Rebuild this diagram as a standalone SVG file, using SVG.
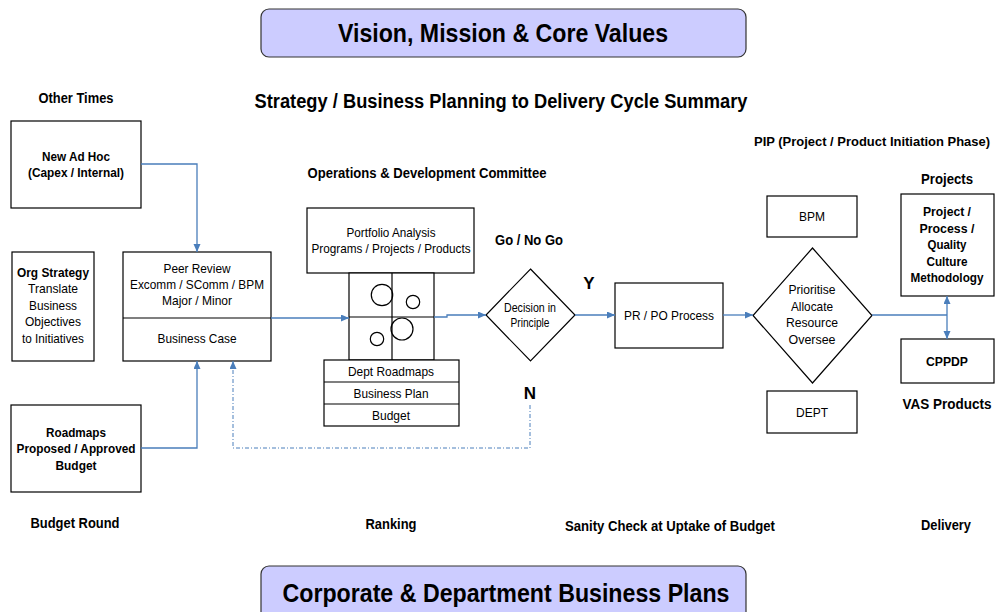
<svg xmlns="http://www.w3.org/2000/svg" width="997" height="612" viewBox="0 0 997 612">
<style>
text{font-family:"Liberation Sans",Arial,sans-serif;fill:#000;text-anchor:middle}
.r{font-size:13px}
.b{font-size:13px;font-weight:bold}
.l{font-size:14px;font-weight:bold}
.h{font-size:25px;font-weight:bold}
.box{fill:#fff;stroke:#000;stroke-width:1.2}
.hdr{fill:#ccccff;stroke:#333;stroke-width:1.2}
.c{fill:none;stroke:#4a7ebb;stroke-width:1.3}
.d{fill:none;stroke:#4a7ebb;stroke-width:1;stroke-dasharray:4 2 1 2}
.ci{fill:none;stroke:#000;stroke-width:1.2}
</style>
<defs>
<marker id="ah" markerUnits="userSpaceOnUse" markerWidth="9" markerHeight="8" refX="8" refY="3.5" orient="auto">
<path d="M0,0 L8,3.5 L0,7 z" fill="#4a7ebb"/>
</marker>
</defs>
<rect width="997" height="612" fill="#fff"/>

<g id="vision">
<rect class="hdr" x="261" y="9" width="485" height="48" rx="8"/>
<text class="h" x="503" y="42" textLength="330" lengthAdjust="spacingAndGlyphs">Vision, Mission &amp; Core Values</text>
</g>
<g id="corporate">
<rect class="hdr" x="261" y="566" width="485" height="60" rx="8"/>
<text class="h" x="506" y="602" textLength="447" lengthAdjust="spacingAndGlyphs">Corporate &amp; Department Business Plans</text>
</g>

<g id="labels">
<text x="501" y="108" style="font-size:19.5px;font-weight:bold" textLength="493" lengthAdjust="spacingAndGlyphs">Strategy / Business Planning to Delivery Cycle Summary</text>
<text class="l" x="76" y="103" textLength="75" lengthAdjust="spacingAndGlyphs">Other Times</text>
<text class="l" x="75" y="528" textLength="89" lengthAdjust="spacingAndGlyphs">Budget Round</text>
<text class="l" x="427" y="178" textLength="239" lengthAdjust="spacingAndGlyphs">Operations &amp; Development Committee</text>
<text class="l" x="391" y="529" textLength="51" lengthAdjust="spacingAndGlyphs">Ranking</text>
<text class="l" x="529" y="245" textLength="68" lengthAdjust="spacingAndGlyphs">Go / No Go</text>
<text x="589" y="289" style="font-size:17px;font-weight:bold">Y</text>
<text x="530" y="399" style="font-size:17px;font-weight:bold">N</text>
<text class="l" x="670" y="531" textLength="210" lengthAdjust="spacingAndGlyphs">Sanity Check at Uptake of Budget</text>
<text x="872" y="146" style="font-size:13px;font-weight:bold" textLength="236" lengthAdjust="spacingAndGlyphs">PIP (Project / Product Initiation Phase)</text>
<text class="l" x="947" y="184" textLength="52" lengthAdjust="spacingAndGlyphs">Projects</text>
<text class="l" x="947" y="409" textLength="89" lengthAdjust="spacingAndGlyphs">VAS Products</text>
<text class="l" x="946" y="530" textLength="50" lengthAdjust="spacingAndGlyphs">Delivery</text>
</g>

<g id="adhoc">
<rect class="box" x="11" y="121" width="130" height="87"/>
<text class="b" x="76" y="161" textLength="68" lengthAdjust="spacingAndGlyphs">New Ad Hoc</text>
<text class="b" x="76" y="177" textLength="96" lengthAdjust="spacingAndGlyphs">(Capex / Internal)</text>
</g>

<g id="orgstrategy">
<rect class="box" x="12" y="252" width="82" height="109"/>
<text class="b" x="53" y="277" textLength="72" lengthAdjust="spacingAndGlyphs">Org Strategy</text>
<text class="r" x="53" y="293" textLength="50" lengthAdjust="spacingAndGlyphs">Translate</text>
<text class="r" x="53" y="310" textLength="48" lengthAdjust="spacingAndGlyphs">Business</text>
<text class="r" x="53" y="326" textLength="56" lengthAdjust="spacingAndGlyphs">Objectives</text>
<text class="r" x="53" y="343" textLength="62" lengthAdjust="spacingAndGlyphs">to Initiatives</text>
</g>

<g id="peerreview">
<rect class="box" x="123" y="252" width="148" height="109"/>
<line x1="123" y1="318" x2="271" y2="318" stroke="#000" stroke-width="1.2"/>
<text class="r" x="197" y="273" textLength="67" lengthAdjust="spacingAndGlyphs">Peer Review</text>
<text class="r" x="197" y="289" textLength="134" lengthAdjust="spacingAndGlyphs">Excomm / SComm / BPM</text>
<text class="r" x="197" y="305" textLength="70" lengthAdjust="spacingAndGlyphs">Major / Minor</text>
<text class="r" x="197" y="343" textLength="79" lengthAdjust="spacingAndGlyphs">Business Case</text>
</g>

<g id="roadmaps">
<rect class="box" x="11" y="405" width="130" height="87"/>
<text class="b" x="76" y="437" textLength="60" lengthAdjust="spacingAndGlyphs">Roadmaps</text>
<text class="b" x="76" y="453" textLength="119" lengthAdjust="spacingAndGlyphs">Proposed / Approved</text>
<text class="b" x="76" y="470" textLength="41" lengthAdjust="spacingAndGlyphs">Budget</text>
</g>

<g id="portfolio">
<rect class="box" x="307" y="208" width="167" height="65"/>
<text class="r" x="391" y="237" textLength="89" lengthAdjust="spacingAndGlyphs">Portfolio Analysis</text>
<text class="r" x="391" y="253" textLength="159" lengthAdjust="spacingAndGlyphs">Programs / Projects / Products</text>
</g>

<g id="matrix">
<rect class="box" x="349" y="273" width="85" height="87"/>
<line x1="392" y1="273" x2="392" y2="360" stroke="#000" stroke-width="1.2"/>
<line x1="349" y1="317" x2="434" y2="317" stroke="#000" stroke-width="1.2"/>
<circle class="ci" cx="382" cy="295" r="10.7"/>
<circle class="ci" cx="413" cy="302" r="6.7"/>
<circle class="ci" cx="402" cy="329" r="11"/>
<circle class="ci" cx="377" cy="339" r="6.7"/>
</g>

<g id="deptstack">
<rect class="box" x="324" y="360" width="135" height="66"/>
<line x1="324" y1="382" x2="459" y2="382" stroke="#000" stroke-width="1.2"/>
<line x1="324" y1="404" x2="459" y2="404" stroke="#000" stroke-width="1.2"/>
<text class="r" x="391" y="376" textLength="86" lengthAdjust="spacingAndGlyphs">Dept Roadmaps</text>
<text class="r" x="391" y="398" textLength="75" lengthAdjust="spacingAndGlyphs">Business Plan</text>
<text class="r" x="391" y="420" textLength="38" lengthAdjust="spacingAndGlyphs">Budget</text>
</g>

<g id="decision">
<polygon class="box" points="530.5,269 575,315 530.5,361 486,315"/>
<text class="r" x="530" y="312" textLength="52" lengthAdjust="spacingAndGlyphs">Decision in</text>
<text class="r" x="530" y="327" textLength="39" lengthAdjust="spacingAndGlyphs">Principle</text>
</g>

<g id="prpo">
<rect class="box" x="615" y="283" width="108" height="65"/>
<text class="r" x="669" y="320" textLength="90" lengthAdjust="spacingAndGlyphs">PR / PO Process</text>
</g>

<g id="prioritise">
<polygon class="box" points="812.5,248 872,315.5 812.5,383 753,315.5"/>
<text class="r" x="812" y="294" textLength="47" lengthAdjust="spacingAndGlyphs">Prioritise</text>
<text class="r" x="812" y="311" textLength="42" lengthAdjust="spacingAndGlyphs">Allocate</text>
<text class="r" x="812" y="327" textLength="52" lengthAdjust="spacingAndGlyphs">Resource</text>
<text class="r" x="812" y="344" textLength="47" lengthAdjust="spacingAndGlyphs">Oversee</text>
</g>

<g id="bpm">
<rect class="box" x="767" y="196" width="90" height="41"/>
<text class="r" x="812" y="221" textLength="26" lengthAdjust="spacingAndGlyphs">BPM</text>
</g>

<g id="dept">
<rect class="box" x="767" y="391" width="90" height="42"/>
<text class="r" x="812" y="417" textLength="32" lengthAdjust="spacingAndGlyphs">DEPT</text>
</g>

<g id="projectbox">
<rect class="box" x="901" y="194" width="93" height="102"/>
<text class="b" x="947" y="216" textLength="48" lengthAdjust="spacingAndGlyphs">Project /</text>
<text class="b" x="947" y="233" textLength="55" lengthAdjust="spacingAndGlyphs">Process /</text>
<text class="b" x="947" y="249" textLength="39" lengthAdjust="spacingAndGlyphs">Quality</text>
<text class="b" x="947" y="266" textLength="41" lengthAdjust="spacingAndGlyphs">Culture</text>
<text class="b" x="947" y="282" textLength="73" lengthAdjust="spacingAndGlyphs">Methodology</text>
</g>

<g id="cppdp">
<rect class="box" x="901" y="339" width="93" height="44"/>
<text class="b" x="947" y="366" textLength="42" lengthAdjust="spacingAndGlyphs">CPPDP</text>
</g>

<g id="connectors">
<path class="c" d="M141,164 H197 V252" marker-end="url(#ah)"/>
<path class="c" d="M141,448 H197 V361" marker-end="url(#ah)"/>
<path class="d" d="M530,405 V448 H233 V361" marker-end="url(#ah)"/>
<path class="c" d="M271,318 H349" marker-end="url(#ah)"/>
<path class="c" d="M434,317 H447 V315 H486" marker-end="url(#ah)"/>
<path class="c" d="M575,315 H615" marker-end="url(#ah)"/>
<path class="c" d="M723,315 H753" marker-end="url(#ah)"/>
<path class="c" d="M872,315 H947"/>
<path class="c" d="M947,315 V296" marker-end="url(#ah)"/>
<path class="c" d="M947,315 V339" marker-end="url(#ah)"/>
</g>
</svg>
